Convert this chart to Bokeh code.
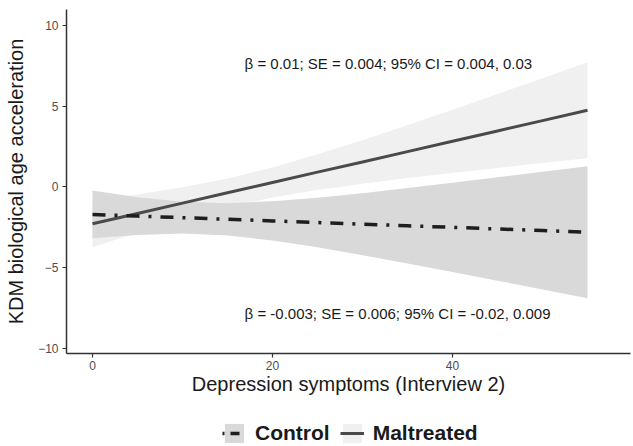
from bokeh.plotting import figure
from bokeh.models import Range1d, Legend, LegendItem, Label, FixedTicker
from bokeh.layouts import column
from bokeh.embed import file_html
from bokeh.resources import INLINE

# Data
x_vals = [0, 5, 10, 15, 20, 25, 30, 35, 40, 45, 50, 55]

maltreated_fit = [-2.28, -1.64, -1.00, -0.36, 0.28, 0.92, 1.55, 2.19, 2.83, 3.47, 4.11, 4.75]
maltreated_upper = [-0.83, -0.46, -0.02, 0.53, 1.21, 2.02, 2.90, 3.83, 4.79, 5.76, 6.74, 7.72]
maltreated_lower = [-3.73, -2.82, -1.98, -1.25, -0.65, -0.18, 0.20, 0.55, 0.87, 1.18, 1.48, 1.78]

control_fit = [-1.70, -1.80, -1.90, -2.00, -2.10, -2.20, -2.30, -2.40, -2.50, -2.60, -2.70, -2.80]
control_upper = [-0.22, -0.63, -0.92, -1.00, -0.89, -0.67, -0.38, -0.07, 0.26, 0.60, 0.94, 1.29]
control_lower = [-3.18, -2.97, -2.88, -3.00, -3.31, -3.73, -4.22, -4.73, -5.26, -5.80, -6.34, -6.89]

x_ticks = [0, 20, 40]
y_ticks = [-10, -5, 0, 5, 10]

groups = ["Control", "Maltreated"]
annot_top = "\u03b2 = 0.01; SE = 0.004; 95% CI = 0.004, 0.03"
annot_bottom = "\u03b2 = -0.003; SE = 0.006; 95% CI = -0.02, 0.009"

FONT = "Liberation Sans"
MAL_FILL, CTL_FILL = "#f0f0f0", "#d9d9da"
MAL_LINE, CTL_LINE = "#4a4a4a", "#1e1e1e"
CTL_DASH = "13 9 3 9"

p = figure(width=633, height=414, output_backend="svg", toolbar_location=None,
           x_range=Range1d(-2.89, 59.78), y_range=Range1d(-10.31, 10.99))
p.min_border_left = 66
p.min_border_top = 9
p.min_border_right = 3
p.min_border_bottom = 61
p.background_fill_color = "white"
p.border_fill_color = "white"
p.outline_line_color = None
p.xgrid.visible = False
p.ygrid.visible = False

p.varea(x=x_vals, y1=maltreated_lower, y2=maltreated_upper, fill_color=MAL_FILL)
p.varea(x=x_vals, y1=control_lower, y2=control_upper, fill_color=CTL_FILL)
p.line(x=x_vals, y=maltreated_fit, line_color=MAL_LINE, line_width=3)
p.line(x=x_vals, y=control_fit, line_color=CTL_LINE, line_width=3.5, line_dash=CTL_DASH)

for ax in (p.xaxis[0], p.yaxis[0]):
    ax.axis_line_color = "#333333"
    ax.axis_line_width = 1.5
    ax.major_tick_line_color = "#333333"
    ax.major_tick_line_width = 1.2
    ax.major_tick_out = 4
    ax.major_tick_in = 0
    ax.minor_tick_line_color = None
    ax.major_label_text_color = "#4d4d4d"
    ax.major_label_text_font = FONT
    ax.major_label_text_font_size = "12px"
    ax.axis_label_text_font = FONT
    ax.axis_label_text_font_size = "20px"
    ax.axis_label_text_font_style = "normal"
    ax.axis_label_text_color = "#1a1a1a"

p.xaxis.ticker = FixedTicker(ticks=x_ticks)
p.yaxis.ticker = FixedTicker(ticks=y_ticks)
p.xaxis.axis_label = "Depression symptoms (Interview 2)"
p.yaxis.axis_label = "KDM biological age acceleration"
p.xaxis.major_label_standoff = 3
p.xaxis.axis_label_standoff = 0
p.yaxis.major_label_standoff = 4
p.yaxis.axis_label_standoff = 8

p.add_layout(Label(x=16.9, y=7.65, text=annot_top, text_font=FONT, text_font_size="15px",
                   text_color="#1a1a1a", text_baseline="middle", text_align="left"))
p.add_layout(Label(x=16.9, y=-7.83, text=annot_bottom, text_font=FONT, text_font_size="15px",
                   text_color="#1a1a1a", text_baseline="middle", text_align="left"))

# Legend strip: swatch renderers hold points outside its visible range
lg = figure(width=633, height=32, output_backend="svg", toolbar_location=None,
            x_axis_location=None, y_axis_location=None,
            x_range=Range1d(0, 1), y_range=Range1d(0, 1))
lg.min_border = 0
lg.xgrid.visible = False
lg.ygrid.visible = False
lg.outline_line_color = None
lg.background_fill_color = "white"
lg.border_fill_color = "white"

r_cb = lg.varea(x=[5, 6], y1=[5, 5], y2=[6, 6], fill_color=CTL_FILL)
r_cl = lg.line(x=[5, 6], y=[5, 5], line_color=CTL_LINE, line_width=3.5, line_dash="2 6 9 7")
r_mb = lg.varea(x=[5, 6], y1=[5, 5], y2=[6, 6], fill_color=MAL_FILL)
r_ml = lg.line(x=[5, 6], y=[5, 5], line_color=MAL_LINE, line_width=3)

legend = Legend(items=[LegendItem(label=groups[0], renderers=[r_cb, r_cl]),
                       LegendItem(label=groups[1], renderers=[r_mb, r_ml])],
                orientation="horizontal", location=(156, 1))
legend.label_text_font = FONT
legend.label_text_font_size = "21px"
legend.label_text_font_style = "bold"
legend.label_text_color = "#1a1a1a"
legend.glyph_width = 24
legend.glyph_height = 24
legend.label_standoff = 9
legend.spacing = 10
legend.padding = 0
legend.margin = 0
legend.border_line_color = None
legend.background_fill_alpha = 0
lg.add_layout(legend, "center")

layout = column(p, lg, spacing=0)
open("out.html", "w").write(file_html(layout, INLINE))
